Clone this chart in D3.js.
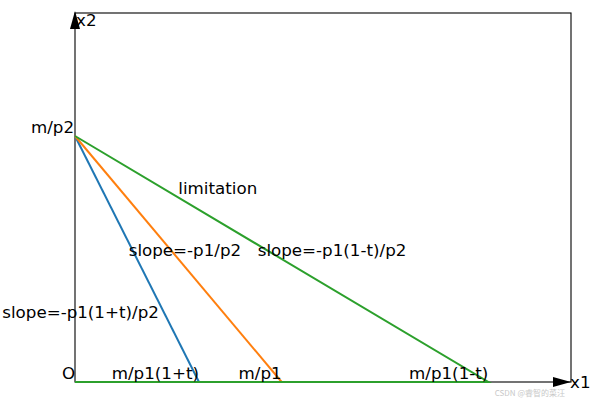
<!DOCTYPE html>
<html>
<head>
<meta charset="utf-8">
<script src="https://cdn.jsdelivr.net/npm/d3@7"></script>
<style>
  body { margin: 0; background: #fff; }
  text { font-family: "DejaVu Sans", sans-serif; font-size: 16.7px; fill: #000; }
</style>
</head>
<body>
<div id="chart"></div>
<script>
// budget lines: all start at m/p2 on the x2 axis
var yIntercept = 4;                       // m/p2
var xIntercepts = [1.5, 2.5, 5];          // m/p1(1+t), m/p1, m/p1(1-t)
var interceptLabels = ["m/p1(1+t)", "m/p1", "m/p1(1-t)"];
var lineColors = ["#1f77b4", "#ff7f0e", "#2ca02c"];

// annotations (data coords)
var notes = [
  { text: "limitation", x: 1.25, y: 3.05 },
  { text: "slope=-p1/p2", x: 0.65, y: 2.05 },
  { text: "slope=-p1(1-t)/p2", x: 2.21, y: 2.05 },
  { text: "slope=-p1(1+t)/p2", x: -0.88, y: 1.04 }
];

var xMax = 6, yMax = 6;

// size
var width = 597, height = 403;
var margin = { left: 75, right: 26, top: 13, bottom: 21 };

var svg = d3.select('#chart')
  .append('svg')
  .attr('width', width)
  .attr('height', height);

var x = d3.scaleLinear().domain([0, xMax]).range([margin.left, width - margin.right]);
var y = d3.scaleLinear().domain([0, yMax]).range([height - margin.bottom, margin.top]);

var line = d3.line().x(function(d) { return x(d[0]); }).y(function(d) { return y(d[1]); });

// frame
svg.append('rect')
  .attr('x', x(0)).attr('y', y(yMax))
  .attr('width', x(xMax) - x(0)).attr('height', y(0) - y(yMax))
  .attr('fill', 'none').attr('stroke', '#000').attr('stroke-width', 1.1);

// lines
xIntercepts.forEach(function(a, i) {
  var pts = [[0, yIntercept], [a, 0]];
  if (i === xIntercepts.length - 1) pts.push([0, 0]); // green runs back along x1
  svg.append('path')
    .attr('d', line(pts))
    .attr('fill', 'none')
    .attr('stroke', lineColors[i])
    .attr('stroke-width', 2);
});

// arrow heads
svg.append('path')
  .attr('d', 'M' + x(0) + ',' + (y(yMax) - 2) + 'l-5,18l10,0z')
  .attr('fill', '#000');
svg.append('path')
  .attr('d', 'M' + x(xMax) + ',' + y(0) + 'l-18,-5l0,10z')
  .attr('fill', '#000');

// axis names
svg.append('text').attr('x', x(0) + 1).attr('y', y(yMax) + 13).text('x2');
svg.append('text').attr('x', x(xMax) - 1).attr('y', y(0) + 6).text('x1');
svg.append('text').attr('x', x(0) - 1).attr('y', y(yIntercept) - 3)
  .attr('text-anchor', 'end').text('m/p2');
svg.append('text').attr('x', x(0) - 13).attr('y', y(0) - 3).text('O');

// intercept labels
svg.selectAll('.ilabel')
  .data(xIntercepts)
  .enter()
  .append('text')
  .attr('class', 'ilabel')
  .attr('x', function(d) { return x(d); })
  .attr('y', y(0) - 3)
  .attr('text-anchor', 'end')
  .text(function(d, i) { return interceptLabels[i]; });

// notes
svg.selectAll('.note')
  .data(notes)
  .enter()
  .append('text')
  .attr('class', 'note')
  .attr('x', function(d) { return x(d.x); })
  .attr('y', function(d) { return y(d.y); })
  .text(function(d) { return d.text; });

// watermark
svg.append('text')
  .attr('x', 565).attr('y', 396)
  .attr('text-anchor', 'end')
  .style('font-family', '"Noto Sans CJK SC", sans-serif')
  .style('font-size', '8px')
  .style('fill', '#c8c8c8')
  .text('CSDN @睿智的菜汪');
</script>
</body>
</html>
